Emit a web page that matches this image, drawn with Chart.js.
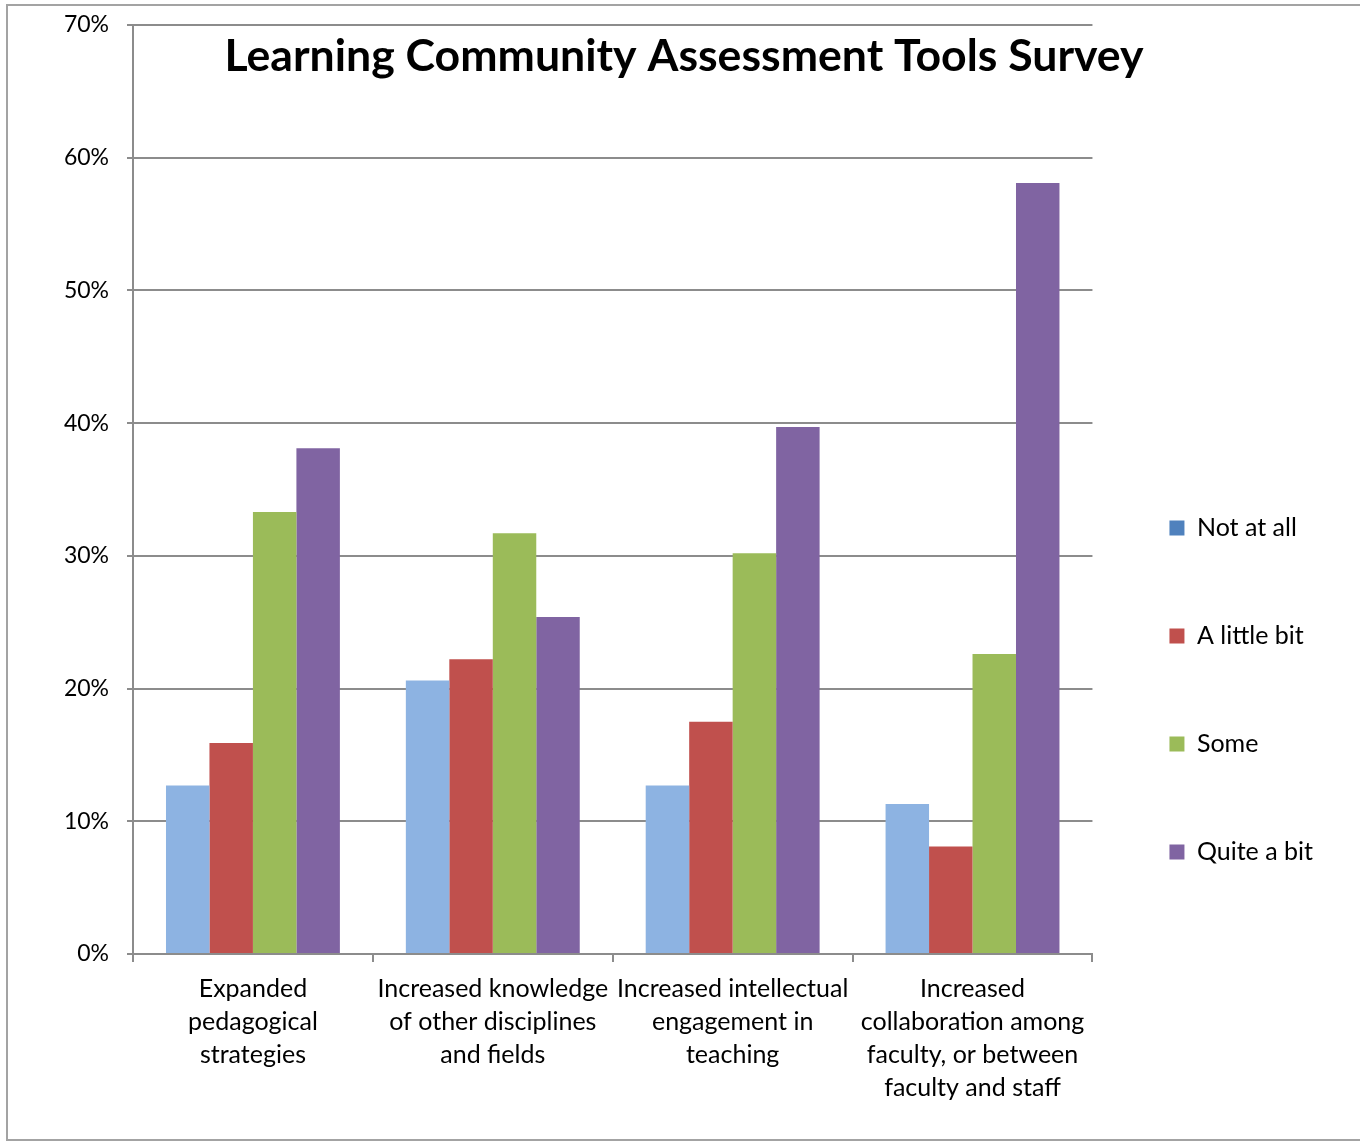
<!DOCTYPE html>
<html>
<head>
<meta charset="utf-8">
<script src="https://cdn.jsdelivr.net/npm/chart.js@4/dist/chart.umd.min.js"></script>
<style>
  html, body { margin: 0; padding: 0; background: #ffffff; }
  #wrap { width: 1360px; height: 1142px; position: relative; }
  canvas { display: block; }
</style>
</head>
<body>
<div id="wrap"><canvas id="c" width="1360" height="1142"></canvas></div>
<script>
// ---- data ----
const chartTitle = "Learning Community Assessment Tools Survey";
const categories = [
  ["Expanded", "pedagogical", "strategies"],
  ["Increased knowledge", "of other disciplines", "and fields"],
  ["Increased intellectual", "engagement in", "teaching"],
  ["Increased", "collaboration among", "faculty, or between", "faculty and staff"]
];
const seriesNames = ["Not at all", "A little bit", "Some", "Quite a bit"];
const notAtAll   = [12.7, 20.6, 12.7, 11.3];
const aLittleBit = [15.9, 22.2, 17.5, 8.1];
const some       = [33.3, 31.7, 30.2, 22.6];
const quiteABit  = [38.1, 25.4, 39.7, 58.1];
const yMin = 0, yMax = 70, yStep = 10;

// ---- styles ----
const barColors    = ["#8DB3E2", "#C0504D", "#9BBB59", "#8064A2"];
const legendColors = ["#4F81BD", "#C0504D", "#9BBB59", "#8064A2"];
const gridColor = "#8c8c8c";
const FONT = "Lato";

const seriesValues = [notAtAll, aLittleBit, some, quiteABit];
const datasets = seriesNames.map((name, i) => ({
  label: name,
  data: seriesValues[i],
  backgroundColor: barColors[i],
  borderWidth: 0,
  categoryPercentage: 0.725,
  barPercentage: 1.0
}));

const frame = {
  id: 'frame',
  beforeDraw(chart) {
    const ctx = chart.ctx;
    ctx.save();
    ctx.fillStyle = '#ffffff';
    ctx.fillRect(0, 0, chart.width, chart.height);
    ctx.strokeStyle = '#a3a3a3';
    ctx.lineWidth = 2;
    ctx.strokeRect(7, 5, chart.width + 20, 1135);
    ctx.restore();
  }
};

const overlayTitle = {
  id: 'overlayTitle',
  afterDraw(chart) {
    const ctx = chart.ctx;
    ctx.save();
    ctx.font = 'bold 44.6px ' + FONT;
    ctx.fillStyle = '#000000';
    ctx.textAlign = 'center';
    ctx.textBaseline = 'alphabetic';
    ctx.fillText(chartTitle, 684, 71);
    ctx.restore();
  }
};

const legendPlace = {
  id: 'legendPlace',
  afterLayout(chart) {
    const lg = chart.legend;
    if (!lg) return;
    const pad = lg.options.labels.padding;
    const dx = (chart.chartArea.right + 77) - (lg.left + pad);
    lg.left += dx; lg.right += dx;
    const dy = (1380 - (lg.top + lg.bottom)) / 2;
    lg.top += dy; lg.bottom += dy;
  }
};

new Chart(document.getElementById('c'), {
  type: 'bar',
  data: { labels: categories, datasets: datasets },
  plugins: [frame, legendPlace, overlayTitle],
  options: {
    responsive: false,
    animation: false,
    devicePixelRatio: 1,
    layout: { padding: { top: 25, left: 0, right: 31, bottom: 0 } },
    plugins: {
      title: { display: false },
      tooltip: { enabled: false },
      legend: {
        display: true,
        position: 'right',
        labels: {
          boxWidth: 15,
          boxHeight: 15,
          padding: 83,
          color: '#000000',
          font: { family: FONT, size: 25 },
          generateLabels(chart) {
            return chart.data.datasets.map((ds, i) => ({
              text: ds.label,
              fillStyle: legendColors[i],
              strokeStyle: legendColors[i],
              lineWidth: 0,
              hidden: false,
              datasetIndex: i
            }));
          }
        }
      }
    },
    scales: {
      x: {
        type: 'category',
        offset: true,
        grid: {
          offset: true,
          drawOnChartArea: false,
          drawTicks: true,
          tickLength: 8,
          color: gridColor,
          lineWidth: 2
        },
        border: { display: true, color: gridColor, width: 2 },
        ticks: {
          autoSkip: false,
          maxRotation: 0,
          minRotation: 0,
          padding: 10,
          color: '#000000',
          font: { family: FONT, size: 25, lineHeight: 1.32 }
        },
        afterFit(scale) { scale.height = 188; }
      },
      y: {
        min: yMin,
        max: yMax,
        grid: {
          color: gridColor,
          lineWidth: 2,
          drawTicks: true,
          tickLength: 6
        },
        border: { display: true, color: gridColor, width: 2 },
        ticks: {
          stepSize: yStep,
          padding: 18,
          color: '#000000',
          font: { family: FONT, size: 23 },
          callback: (v) => v + '%'
        },
        afterFit(scale) {
          scale.width = 133;
          scale.paddingTop = 12;
          scale.paddingBottom = 12;
        }
      }
    }
  }
});
</script>
</body>
</html>
